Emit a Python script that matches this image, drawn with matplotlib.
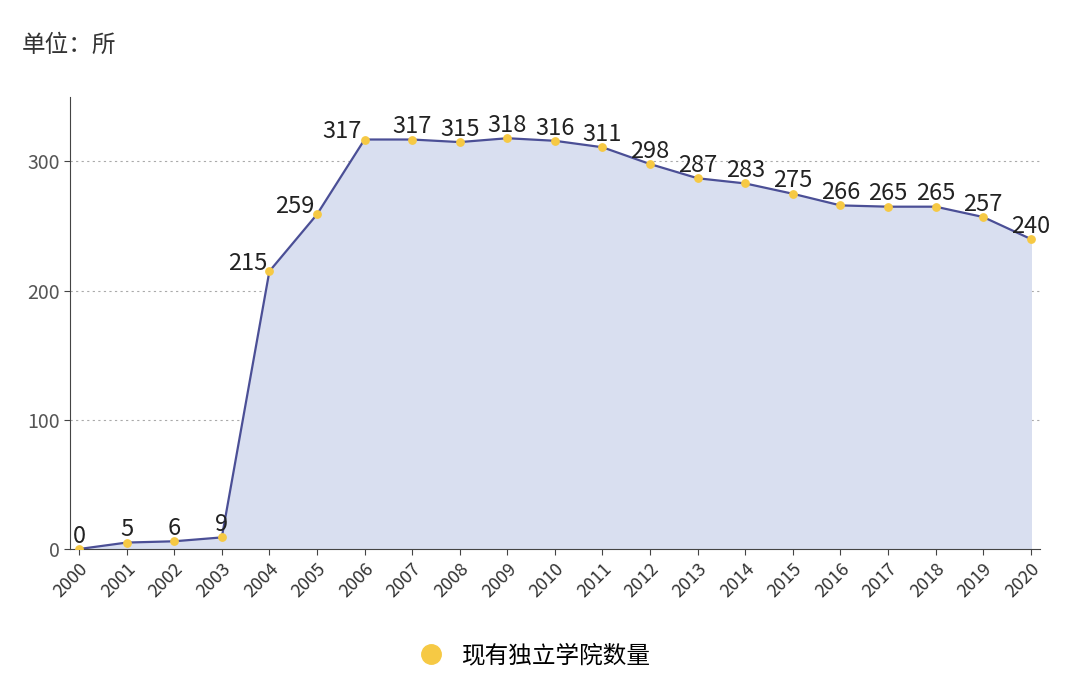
import matplotlib.pyplot as plt
from matplotlib.lines import Line2D

plt.rcParams['font.family'] = ['Noto Sans CJK SC', 'DejaVu Sans']

years = list(range(2000, 2021))
counts = [0, 5, 6, 9, 215, 259, 317, 317, 315, 318, 316, 311, 298, 287, 283, 275, 266, 265, 265, 257, 240]
yticks = [0, 100, 200, 300]

fig = plt.figure(figsize=(10.8, 6.92), dpi=100)
ax = fig.add_axes([0.0648, 0.2066, 0.898, 0.6534])

line_c = '#4b4f96'
fill_c = '#d9dff0'
dot_c = '#f6c944'

ax.fill_between(years, counts, 0, color=fill_c, zorder=1)
ax.plot(years, counts, color=line_c, lw=1.6, zorder=2)
ax.scatter(years, counts, s=28, color=dot_c, zorder=3)

for x, y in zip(years, counts):
    if x in (2004, 2005, 2006):
        ax.text(x - 0.05, y - 3, str(y), ha='right', va='bottom', fontsize=17, color='#222222', zorder=4)
    else:
        ax.text(x, y + 1, str(y), ha='center', va='bottom', fontsize=17, color='#222222', zorder=4)

ax.set_xlim(1999.81, 2020.19)
ax.set_ylim(0, 350)
ax.set_xticks(years)
ax.set_xticklabels([str(y) for y in years], rotation=45, ha='right', rotation_mode='anchor', fontsize=13, color='#333333')
ax.set_yticks(yticks)
ax.set_yticklabels([str(v) for v in yticks], fontsize=14, color='#555555')
for v in yticks[1:]:
    ax.axhline(v, color='#aaaaaa', lw=0.8, ls=(0, (2, 3)), zorder=0)

for s in ('top', 'right'):
    ax.spines[s].set_visible(False)
ax.spines['left'].set_color('#444444')
ax.spines['bottom'].set_color('#444444')
ax.tick_params(axis='both', length=4, color='#444444')

fig.text(0.02, 0.935, '单位：所', fontsize=17, color='#333333', va='center')

handle = Line2D([], [], marker='o', ls='', markersize=14, color=dot_c)
fig.legend([handle], ['现有独立学院数量'], loc='center', bbox_to_anchor=(0.49, 0.052),
           frameon=False, fontsize=17, handletextpad=0.3)

fig.savefig('out.png', dpi=100)
